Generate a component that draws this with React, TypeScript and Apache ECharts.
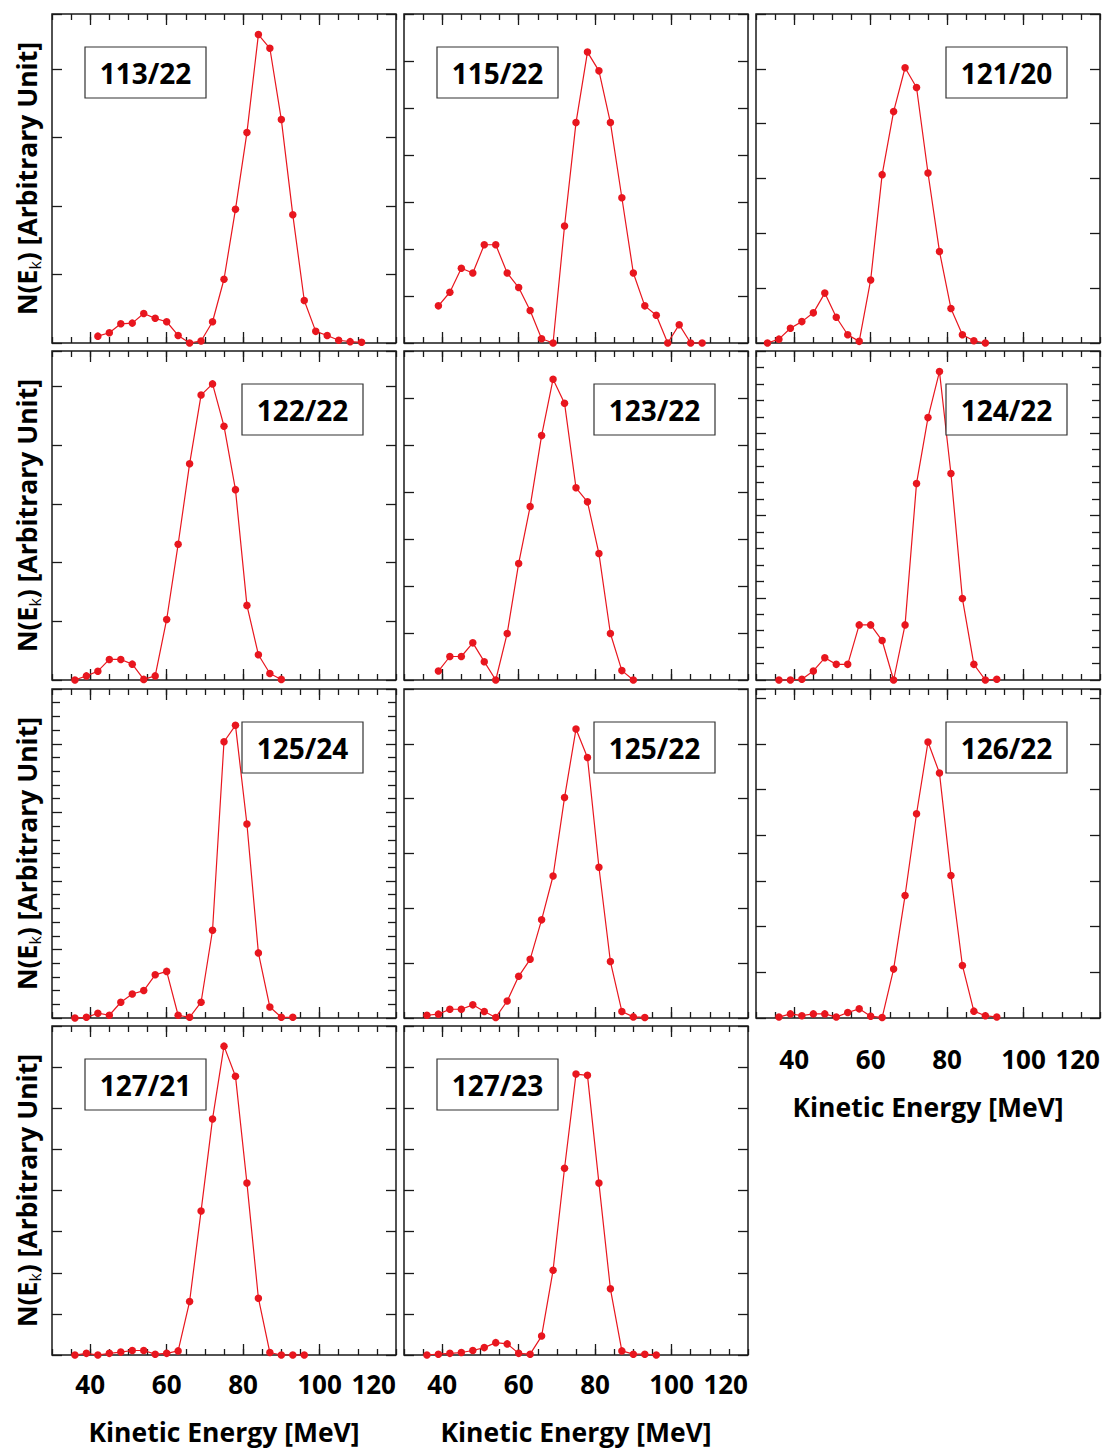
import React, { useEffect, useRef } from 'react';
import * as echarts from 'echarts';

const FONT = '"Open Sans", Lato, "DejaVu Sans", sans-serif';
const RED = '#e8161e';
const INK = '#1a1a1a';

// ---- data (x: kinetic energy in MeV, y: N(Ek) in arbitrary units) ----
const labels = ['113/22', '115/22', '121/20', '122/22', '123/22', '124/22', '125/24', '125/22', '126/22', '127/21', '127/23'];

const x_113_22 = [42, 45, 48, 51, 54, 57, 60, 63, 66, 69, 72, 75, 78, 81, 84, 87, 90, 93, 96, 99, 102, 105, 108, 111];
const y_113_22 = [0.10, 0.15, 0.28, 0.29, 0.43, 0.36, 0.31, 0.11, 0.00, 0.03, 0.31, 0.93, 1.95, 3.07, 4.50, 4.30, 3.26, 1.87, 0.62, 0.17, 0.11, 0.04, 0.02, 0.01];

const x_115_22 = [39, 42, 45, 48, 51, 54, 57, 60, 63, 66, 69, 72, 75, 78, 81, 84, 87, 90, 93, 96, 99, 102, 105, 108];
const y_115_22 = [0.79, 1.08, 1.59, 1.49, 2.09, 2.09, 1.49, 1.18, 0.69, 0.09, 0.00, 2.49, 4.69, 6.19, 5.79, 4.69, 3.09, 1.49, 0.79, 0.59, 0.00, 0.39, 0.00, 0.00];

const x_121_20 = [33, 36, 39, 42, 45, 48, 51, 54, 57, 60, 63, 66, 69, 72, 75, 78, 81, 84, 87, 90];
const y_121_20 = [0.00, 0.07, 0.27, 0.39, 0.55, 0.91, 0.47, 0.15, 0.03, 1.15, 3.07, 4.22, 5.02, 4.66, 3.10, 1.67, 0.63, 0.15, 0.04, 0.00];

const x_122_22 = [36, 39, 42, 45, 48, 51, 54, 57, 60, 63, 66, 69, 72, 75, 78, 81, 84, 87, 90];
const y_122_22 = [0.00, 0.07, 0.15, 0.35, 0.35, 0.27, 0.01, 0.07, 1.03, 2.31, 3.68, 4.85, 5.04, 4.32, 3.24, 1.27, 0.43, 0.11, 0.01];

const x_123_22 = [39, 42, 45, 48, 51, 54, 57, 60, 63, 66, 69, 72, 75, 78, 81, 84, 87, 90];
const y_123_22 = [0.19, 0.50, 0.50, 0.79, 0.39, 0.00, 0.99, 2.48, 3.69, 5.20, 6.40, 5.89, 4.09, 3.79, 2.69, 0.99, 0.20, 0.00];

const x_124_22 = [36, 39, 42, 45, 48, 51, 54, 57, 60, 63, 66, 69, 72, 75, 78, 81, 84, 87, 90, 93];
const y_124_22 = [0.00, 0.00, 0.01, 0.11, 0.27, 0.19, 0.19, 0.67, 0.67, 0.48, 0.00, 0.67, 2.39, 3.19, 3.75, 2.51, 0.99, 0.19, 0.00, 0.01];

const x_125_24 = [36, 39, 42, 45, 48, 51, 54, 57, 60, 63, 66, 69, 72, 75, 78, 81, 84, 87, 90, 93];
const y_125_24 = [0.00, 0.01, 0.07, 0.04, 0.23, 0.35, 0.40, 0.63, 0.68, 0.04, 0.01, 0.23, 1.28, 4.03, 4.27, 2.83, 0.95, 0.16, 0.01, 0.01];

const x_125_22 = [36, 39, 42, 45, 48, 51, 54, 57, 60, 63, 66, 69, 72, 75, 78, 81, 84, 87, 90, 93];
const y_125_22 = [0.05, 0.07, 0.16, 0.16, 0.24, 0.12, 0.01, 0.31, 0.76, 1.07, 1.79, 2.59, 4.02, 5.27, 4.75, 2.75, 1.03, 0.12, 0.02, 0.01];

const x_126_22 = [36, 39, 42, 45, 48, 51, 54, 57, 60, 63, 66, 69, 72, 75, 78, 81, 84, 87, 90, 93];
const y_126_22 = [0.02, 0.09, 0.05, 0.09, 0.09, 0.02, 0.12, 0.20, 0.04, 0.01, 1.07, 2.68, 4.47, 6.04, 5.36, 3.12, 1.15, 0.15, 0.05, 0.02];

const x_127_21 = [36, 39, 42, 45, 48, 51, 54, 57, 60, 63, 66, 69, 72, 75, 78, 81, 84, 87, 90, 93, 96];
const y_127_21 = [0.00, 0.04, 0.00, 0.04, 0.07, 0.11, 0.11, 0.02, 0.04, 0.10, 1.30, 3.50, 5.74, 7.51, 6.78, 4.18, 1.38, 0.06, 0.00, 0.00, 0.00];

const x_127_23 = [36, 39, 42, 45, 48, 51, 54, 57, 60, 63, 66, 69, 72, 75, 78, 81, 84, 87, 90, 93, 96];
const y_127_23 = [0.00, 0.02, 0.04, 0.06, 0.11, 0.18, 0.30, 0.27, 0.04, 0.02, 0.46, 2.06, 4.54, 6.83, 6.80, 4.18, 1.61, 0.10, 0.02, 0.02, 0.00];

const xs = [x_113_22, x_115_22, x_121_20, x_122_22, x_123_22, x_124_22, x_125_24, x_125_22, x_126_22, x_127_21, x_127_23];
const ys = [y_113_22, y_115_22, y_121_20, y_122_22, y_123_22, y_124_22, y_125_24, y_125_22, y_126_22, y_127_21, y_127_23];

// y axis extents (in tick units) per panel
const yMax = [4.8, 7, 6, 5.6, 7, 4, 4.8, 6, 7.2, 8, 8];
const yMinor = [false, false, false, false, false, true, true, false, false, false, false];
const topTicks = [true, true, true, true, true, true, true, false, true, true, true];
const labelRight = [false, false, true, true, true, true, true, true, true, false, false];

const xMajorTicks = [40, 60, 80, 100];
const xTickLabels = [40, 60, 80, 100, 120];
const xTitle = 'Kinetic Energy [MeV]';

// ---- layout ----
const colLeft = [52, 404, 756];
const rowTop = [14, 351, 689, 1026];
const PW = 344;
const PH = 329;

function buildOption() {
  const grid: any[] = [];
  const xAxis: any[] = [];
  const yAxis: any[] = [];
  const series: any[] = [];
  const graphic: any[] = [];

  const tickStyle = { color: INK, width: 1.3 };
  const labelFont = { fontFamily: FONT, fontWeight: 'bold', fontSize: 26, color: '#000' };

  labels.forEach((lab, i) => {
    const row = Math.floor(i / 3);
    const col = i % 3;
    const left = colLeft[col];
    const top = rowTop[row];
    grid.push({ left, top, width: PW, height: PH, show: true, borderColor: INK, borderWidth: 1.5, backgroundColor: 'transparent' });

    const showLabels = i >= 8;
    const labelMargin = i === 8 ? 28 : 16;
    const baseX = xAxis.length;
    const positions = topTicks[i] ? ['bottom', 'top'] : ['bottom'];
    positions.forEach((pos) => {
      // minor ticks every 5 MeV
      xAxis.push({
        type: 'value', gridIndex: i, position: pos, min: 30, max: 120, interval: 5,
        axisLine: { show: false }, splitLine: { show: false },
        axisTick: { show: true, inside: true, length: 6, lineStyle: tickStyle },
        axisLabel: { show: false },
      });
      // major ticks + labels
      xAxis.push({
        type: 'value', gridIndex: i, position: pos, min: 30, max: 120,
        axisLine: { show: false }, splitLine: { show: false },
        axisTick: { show: true, inside: true, length: 11, lineStyle: tickStyle, customValues: xMajorTicks },
        axisLabel: {
          show: showLabels && pos === 'bottom', customValues: xTickLabels, margin: labelMargin,
          alignMaxLabel: 'right', ...labelFont,
        },
      });
    });

    const baseY = yAxis.length;
    ['left', 'right'].forEach((pos) => {
      yAxis.push({
        type: 'value', gridIndex: i, position: pos, min: 0, max: yMax[i], interval: 1,
        axisLine: { show: false }, splitLine: { show: false },
        axisTick: { show: true, inside: true, length: 10, lineStyle: tickStyle },
        minorTick: { show: yMinor[i], splitNumber: 5, length: 8, lineStyle: tickStyle },
        minorSplitLine: { show: false },
        axisLabel: { show: false },
      });
    });

    series.push({
      type: 'line', name: lab, xAxisIndex: baseX, yAxisIndex: baseY,
      data: xs[i].map((x, j) => [x, ys[i][j]]),
      symbol: 'circle', symbolSize: 7.5, clip: false,
      lineStyle: { color: RED, width: 1.2 },
      itemStyle: { color: RED },
    });

    // label box
    const bx = left + (labelRight[i] ? 190 : 33);
    const by = top + 33;
    graphic.push({
      type: 'rect', shape: { x: bx, y: by, width: 121, height: 51 },
      style: { fill: '#fff', stroke: '#333', lineWidth: 1.2 }, z: 10,
    });
    graphic.push({
      type: 'text', x: bx + 60.5, y: by + 26, z: 11,
      style: { text: lab, fontFamily: FONT, fontWeight: 'bold', fontSize: 28, fill: '#000', align: 'center', verticalAlign: 'middle' },
    });
  });

  // y titles
  rowTop.forEach((t) => {
    graphic.push({
      type: 'text', x: 27, y: t + PH / 2, rotation: Math.PI / 2, z: 11,
      style: {
        text: '{a|N(E}{s|k}{a|) [Arbitrary Unit]}',
        align: 'center', verticalAlign: 'middle',
        rich: {
          a: { fontFamily: FONT, fontWeight: 'bold', fontSize: 26.5, fill: '#000', lineHeight: 31 },
          s: { fontFamily: FONT, fontWeight: 'normal', fontSize: 16, fill: '#000', verticalAlign: 'bottom', lineHeight: 31 },
        },
      },
    });
  });

  // x titles
  const xt = [
    { x: colLeft[0] + PW / 2, y: 1432 },
    { x: colLeft[1] + PW / 2, y: 1432 },
    { x: colLeft[2] + PW / 2, y: 1107 },
  ];
  xt.forEach((p) => {
    graphic.push({
      type: 'text', x: p.x, y: p.y, z: 11,
      style: { text: xTitle, fontFamily: FONT, fontWeight: 'bold', fontSize: 26.5, fill: '#000', align: 'center', verticalAlign: 'middle' },
    });
  });

  return { animation: false, backgroundColor: '#fff', grid, xAxis, yAxis, series, graphic };
}

export default function App() {
  const ref = useRef<HTMLDivElement>(null);
  useEffect(() => {
    const chart = echarts.init(ref.current as HTMLDivElement, null, { renderer: 'svg' });
    chart.setOption(buildOption() as any);
    return () => chart.dispose();
  }, []);
  return <div ref={ref} style={{ position: 'absolute', left: 0, top: 0, width: 1110, height: 1449 }} />;
}
